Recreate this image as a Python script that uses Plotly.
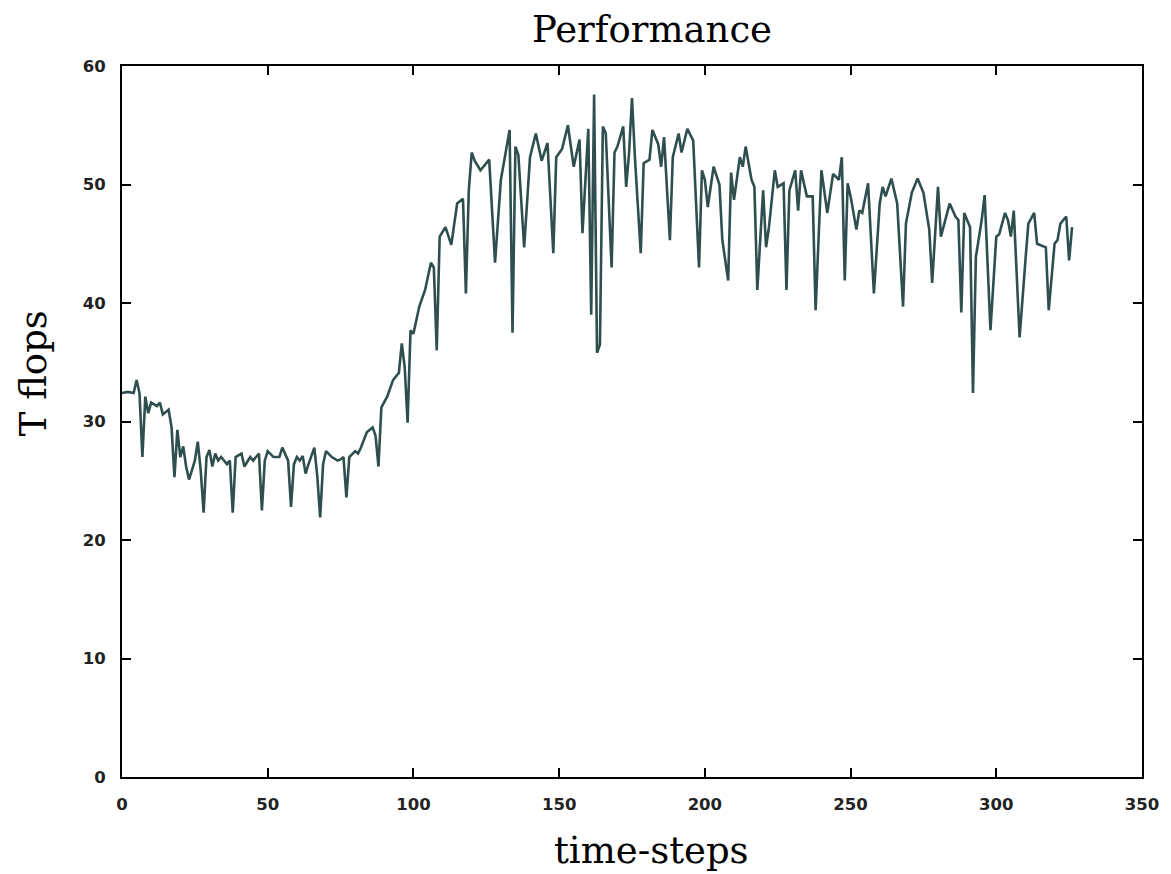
import plotly.graph_objects as go

# Sustained throughput per time-step
time_steps = [
    0, 2, 4, 5, 6, 7, 8, 9, 10, 12, 13, 14, 16, 17, 18, 19, 20, 21, 22, 23,
    25, 26, 27, 28, 29, 30, 31, 32, 33, 34, 36, 37, 38, 39, 41, 42, 44, 45, 47, 48,
    49, 50, 52, 54, 55, 56, 57, 58, 59, 60, 61, 62, 63, 64, 66, 67, 68, 69, 70, 72,
    74, 75, 76, 77, 78, 80, 81, 82, 83, 84, 86, 87, 88, 89, 91, 93, 95, 96, 97, 98,
    99, 100, 102, 104, 106, 107, 108, 109, 111, 113, 115, 117, 118, 119, 120, 121, 123, 126, 128, 130,
    131, 133, 134, 135, 136, 138, 140, 142, 144, 146, 148, 149, 151, 153, 155, 157, 158, 160, 161, 162,
    163, 164, 165, 166, 168, 169, 170, 172, 173, 174, 175, 176, 178, 179, 181, 182, 184, 185, 186, 188,
    189, 191, 192, 194, 196, 198, 199, 200, 201, 203, 205, 206, 208, 209, 210, 212, 213, 214, 216, 217,
    218, 220, 221, 222, 224, 225, 227, 228, 229, 231, 232, 233, 235, 237, 238, 240, 242, 244, 246, 247,
    248, 249, 250, 252, 253, 254, 256, 258, 260, 261, 262, 264, 266, 268, 269, 271, 273, 275, 277, 278,
    280, 281, 284, 286, 287, 288, 289, 291, 292, 293, 295, 296, 298, 300, 301, 303, 304, 305, 306, 308,
    310, 311, 313, 314, 317, 318, 320, 321, 322, 324, 325, 326,
]
tflops = [
    32.4, 32.5, 32.4, 33.5, 32.4, 27.0, 32.1, 30.7, 31.6, 31.3, 31.6, 30.6, 31.0, 29.5, 25.3, 29.3, 27.0, 27.9, 26.2, 25.1,
    26.7, 28.3, 25.9, 22.3, 27.0, 27.6, 26.2, 27.3, 26.7, 27.0, 26.4, 26.7, 22.3, 27.0, 27.3, 26.2, 27.0, 26.7, 27.3, 22.5,
    26.7, 27.5, 27.0, 27.0, 27.8, 27.2, 26.7, 22.8, 26.4, 27.0, 26.7, 27.1, 25.6, 26.4, 27.8, 25.4, 21.9, 26.4, 27.5, 27.0,
    26.7, 26.8, 27.0, 23.6, 27.0, 27.5, 27.3, 27.8, 28.4, 29.1, 29.5, 28.8, 26.2, 31.2, 32.1, 33.5, 34.1, 36.6, 34.6, 29.9,
    37.7, 37.4, 39.7, 41.1, 43.4, 43.0, 36.0, 45.6, 46.4, 44.9, 48.4, 48.8, 40.8, 49.5, 52.7, 52.0, 51.2, 52.1, 43.4, 50.4,
    51.8, 54.6, 37.5, 53.2, 52.5, 44.7, 52.3, 54.3, 52.0, 53.5, 44.2, 52.3, 53.0, 55.0, 51.5, 53.8, 45.9, 54.7, 39.0, 57.6,
    35.8, 36.5, 54.9, 54.3, 43.0, 52.7, 53.2, 54.9, 49.8, 52.7, 57.3, 52.3, 44.2, 51.8, 52.1, 54.6, 53.4, 51.5, 54.0, 45.3,
    52.3, 54.3, 52.7, 54.7, 53.7, 43.0, 51.2, 50.4, 48.1, 51.5, 50.0, 45.3, 41.9, 51.0, 48.7, 52.3, 51.5, 53.2, 50.4, 49.8,
    41.1, 49.5, 44.7, 46.4, 51.2, 49.8, 50.1, 41.1, 49.5, 51.2, 47.8, 51.2, 49.0, 49.0, 39.4, 51.2, 47.6, 50.9, 50.4, 52.3,
    41.9, 50.1, 49.0, 46.2, 47.8, 47.6, 50.1, 40.8, 48.4, 49.8, 49.0, 50.5, 48.4, 39.7, 46.7, 49.3, 50.5, 49.3, 46.2, 41.7,
    49.8, 45.6, 48.4, 47.3, 47.0, 39.2, 47.6, 46.4, 32.4, 43.9, 47.0, 49.1, 37.7, 45.6, 45.8, 47.6, 47.0, 45.6, 47.8, 37.1,
    43.6, 46.7, 47.6, 45.0, 44.7, 39.4, 45.0, 45.3, 46.7, 47.3, 43.6, 46.4,
]

x_ticks = [0, 50, 100, 150, 200, 250, 300, 350]
y_ticks = [0, 10, 20, 30, 40, 50, 60]

fig = go.Figure()
fig.add_trace(go.Scatter(
    x=time_steps, y=tflops, mode="lines",
    line=dict(color="#2f4f4f", width=2.6),
    showlegend=False,
))

tick_font = dict(family="DejaVu Sans", size=16.5, color="#222222", weight="bold")
axis_common = dict(
    showline=True, linecolor="black", linewidth=2, mirror="ticks",
    ticks="inside", ticklen=9, tickwidth=2, tickcolor="black",
    showgrid=False, zeroline=False, tickfont=tick_font,
)

fig.update_layout(
    width=1171, height=874,
    margin=dict(l=122, r=26, t=66, b=97),
    paper_bgcolor="white", plot_bgcolor="white",
    xaxis=dict(range=[0, 350], tickvals=x_ticks, ticklabelstandoff=11, **axis_common),
    yaxis=dict(range=[0, 60], tickvals=y_ticks, ticklabelstandoff=11, **axis_common),
    title=dict(
        text="Performance", x=652 / 1171, xanchor="center", y=1 - 29 / 874, yanchor="middle",
        font=dict(family="DejaVu Serif", size=37, color="black"),
    ),
    annotations=[
        dict(text="time-steps", xref="paper", yref="paper",
             x=(653 - 122) / (1145 - 122), y=-(850 - 777) / (777 - 66),
             xanchor="center", yanchor="middle", showarrow=False,
             font=dict(family="DejaVu Serif", size=37, color="black")),
        dict(text="T flops", xref="paper", yref="paper",
             x=-(122 - 33) / (1145 - 122), y=(777 - 373) / (777 - 66),
             xanchor="center", yanchor="middle", textangle=-90, showarrow=False,
             font=dict(family="DejaVu Serif", size=37, color="black")),
    ],
)

fig.write_html("out.html")
